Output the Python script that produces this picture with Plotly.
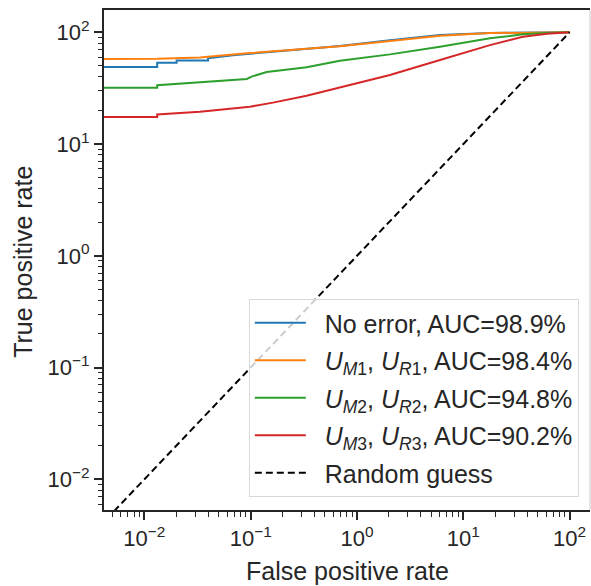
import plotly.graph_objects as go

# ---- data (rates in %) ----
fpr_none = [0.003, 0.0132, 0.0132, 0.0201, 0.0201, 0.0397, 0.0397, 0.068, 0.1415, 0.291, 0.69, 2.04, 6.04, 17.8, 36.4, 100]
tpr_none = [48.9, 48.9, 53.5, 53.5, 56.1, 56.1, 58.6, 62.5, 66.3, 70.5, 75.5, 84.8, 94.5, 98.9, 99.7, 100]

fpr_1 = [0.003, 0.0132, 0.0333, 0.05, 0.068, 0.1, 0.1415, 0.291, 0.69, 2.04, 6.04, 17.8, 36.4, 100]
tpr_1 = [57.7, 57.9, 59.6, 61.2, 63.3, 65.2, 66.8, 70.8, 75.0, 83.6, 93.2, 98.6, 99.6, 100]

fpr_2 = [0.003, 0.0132, 0.0132, 0.0514, 0.092, 0.102, 0.1415, 0.336, 0.69, 2.04, 6.04, 17.8, 36.4, 60.0, 100]
tpr_2 = [31.9, 31.9, 33.7, 36.6, 38.3, 40.2, 44.2, 48.7, 55.7, 63.5, 74.3, 88.4, 96.0, 98.5, 100]

fpr_3 = [0.003, 0.0132, 0.0132, 0.0333, 0.0984, 0.162, 0.336, 0.557, 0.69, 2.04, 6.04, 17.8, 36.4, 61.3, 100]
tpr_3 = [17.5, 17.5, 18.4, 19.5, 21.6, 23.5, 27.1, 30.5, 32.0, 41.5, 56.5, 76.9, 91.4, 97.1, 100]

fpr_rand = [0.001, 100]
tpr_rand = [0.001, 100]

tick_vals = [0.01, 0.1, 1, 10, 100]
tick_text = ["10<sup>\u22122</sup>", "10<sup>\u22121</sup>", "10<sup>0</sup>", "10<sup>1</sup>", "10<sup>2</sup>"]

labels = [
    "No error, AUC=98.9%",
    "<i>U</i><sub><i>M</i>1</sub>, <i>U</i><sub><i>R</i>1</sub>, AUC=98.4%",
    "<i>U</i><sub><i>M</i>2</sub>, <i>U</i><sub><i>R</i>2</sub>, AUC=94.8%",
    "<i>U</i><sub><i>M</i>3</sub>, <i>U</i><sub><i>R</i>3</sub>, AUC=90.2%",
    "Random guess",
]
colors = ["#1f77b4", "#ff7f0e", "#2ca02c", "#d62728"]
pad = "\u00a0\u00a0"

fig = go.Figure()
series = [(fpr_none, tpr_none), (fpr_1, tpr_1), (fpr_2, tpr_2), (fpr_3, tpr_3)]
for i, ((fx, ty), lab, col) in enumerate(zip(series, labels[:4], colors)):
    fig.add_trace(go.Scatter(x=fx, y=ty, mode="lines", name=pad + lab, legendgroup=f"g{i}",
                             line=dict(color=col, width=2)))
fig.add_trace(go.Scatter(x=fpr_rand, y=tpr_rand, mode="lines", name=pad + labels[4], legendgroup="g4",
                         line=dict(color="black", width=2, dash="7px,4px")))

minor_vals = [m * 10.0 ** e for e in range(-3, 3) for m in range(2, 10)]

ink = "#262626"
axis_common = dict(
    type="log", tickmode="array", tickvals=tick_vals, ticktext=tick_text,
    showgrid=False, zeroline=False,
    showline=True, linecolor=ink, linewidth=2,
    ticks="outside", ticklen=8, tickwidth=1.5, tickcolor=ink,
    minor=dict(ticks="outside", ticklen=4.5, tickwidth=1.2, tickcolor=ink,
               tickmode="array", tickvals=minor_vals, showgrid=False),
    tickfont=dict(family="Liberation Sans", size=22, color=ink),
)
fig.update_xaxes(range=[-2.38, 2.192], mirror=True, **axis_common)
fig.update_yaxes(range=[-2.275, 2.2], mirror=False, **axis_common)

fig.add_shape(type="line", xref="paper", yref="paper", x0=1, x1=1, y0=0, y1=1,
              line=dict(color="#c8c8c8", width=1))

fig.add_annotation(text="False positive rate", xref="paper", yref="paper", x=0.5, y=-0.09,
                   xanchor="center", yanchor="top", showarrow=False,
                   font=dict(family="Liberation Sans", size=25, color=ink))
fig.add_annotation(text="True positive rate", xref="paper", yref="paper", x=-0.168, y=0.497,
                   xanchor="center", yanchor="middle", textangle=-90, showarrow=False,
                   font=dict(family="Liberation Sans", size=25, color=ink))

fig.update_layout(
    width=591, height=586,
    margin=dict(l=104, r=1, t=10, b=76),
    paper_bgcolor="white", plot_bgcolor="white",
    showlegend=True,
    legend=dict(x=0.977, y=0.026, xanchor="right", yanchor="bottom",
                bgcolor="rgba(255,255,255,0.8)", bordercolor="#d9d9d9", borderwidth=1,
                font=dict(family="Liberation Sans", size=25, color=ink),
                itemwidth=51, tracegroupgap=2),
)

fig.write_html("out.html")
